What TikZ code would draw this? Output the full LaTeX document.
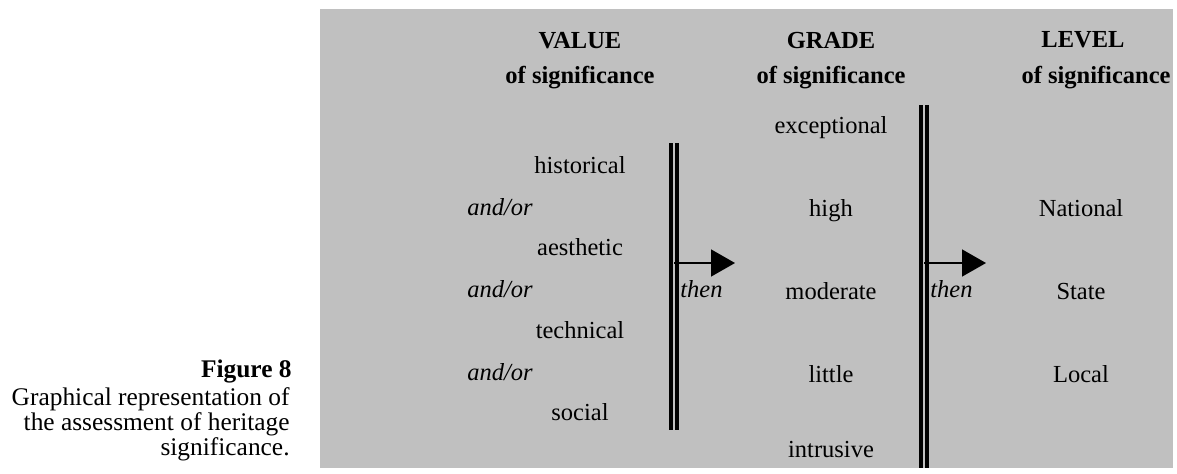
\documentclass[tikz,border=0pt]{standalone}
\usepackage{fontspec}
\setmainfont{Liberation Serif}
\usetikzlibrary{arrows.meta}
\definecolor{panelgrey}{RGB}{192,192,192}

\begin{document}
\begin{tikzpicture}[x=0.5pt,y=-0.5pt]
  \tikzset{TXT/.style={inner sep=0pt, anchor=base, font=\fontsize{12.25}{14}\selectfont} }
  \tikzset{HEAD/.style={TXT, font=\fontsize{12.25}{14}\selectfont\bfseries} }
  \tikzset{CAP/.style={inner sep=0pt, anchor=base east, font=\fontsize{12.7}{14}\selectfont} }
  \tikzset{BAR/.style={line width=1.75pt} }
  \tikzset{THEN/.style={-{Triangle[length=12pt,width=13.5pt]}, line width=0.75pt} }

  \useasboundingbox (0,0) rectangle (1177,473);
  \fill[panelgrey] (320,9) rectangle (1173,468);

  % headings
  \node[HEAD] (value)  at (580,48)  {VALUE};
  \node[HEAD] (valsig) at (580,83)  {of significance};
  \node[HEAD] (grade)  at (831,48)  {GRADE};
  \node[HEAD] (grdsig) at (831,83)  {of significance};
  \node[HEAD] (level)  at (1083,47) {LEVEL};
  \node[HEAD] (levsig) at (1096,83) {of significance};

  % values
  \node[TXT] (hist)  at (580,173) {historical};
  \node[TXT] (aest)  at (580,255) {aesthetic};
  \node[TXT] (tech)  at (580,338) {technical};
  \node[TXT] (soc)   at (580,420) {social};
  \node[TXT, anchor=base west] (andor1) at (467,215) {\textit{and/or}};
  \node[TXT, anchor=base west] (andor2) at (467,297) {\textit{and/or}};
  \node[TXT, anchor=base west] (andor3) at (467,380) {\textit{and/or}};

  % grades
  \node[TXT] (exc)  at (831,133) {exceptional};
  \node[TXT] (high) at (831,216) {high};
  \node[TXT] (mod)  at (831,299) {moderate};
  \node[TXT] (lit)  at (831,382) {little};
  \node[TXT] (intr) at (831,457) {intrusive};

  % levels
  \node[TXT] (nat)   at (1081,216) {National};
  \node[TXT] (state) at (1081,299) {State};
  \node[TXT] (local) at (1081,382) {Local};

  % double bars
  \coordinate (bar1top) at (674,143);
  \coordinate (bar1bot) at (674,430);
  \coordinate (bar2top) at (924,105);
  \coordinate (bar2bot) at (924,468);
  \draw[BAR] ([xshift=-1.5pt]bar1top) -- ([xshift=-1.5pt]bar1bot);
  \draw[BAR] ([xshift=1.5pt]bar1top)  -- ([xshift=1.5pt]bar1bot);
  \draw[BAR] ([xshift=-1.4pt]bar2top) -- ([xshift=-1.4pt]bar2bot);
  \draw[BAR] ([xshift=1.4pt]bar2top)  -- ([xshift=1.4pt]bar2bot);

  % arrows
  \coordinate (arr1s) at (674,263);
  \coordinate (arr1e) at (735,263);
  \coordinate (arr2s) at (924,263);
  \coordinate (arr2e) at (986,263);
  \draw[THEN] (arr1s) -- (arr1e);
  \draw[THEN] (arr2s) -- (arr2e);
  \node[TXT, anchor=base west] (then1) at (680,297) {\textit{then}};
  \node[TXT, anchor=base west] (then2) at (930,297) {\textit{then}};

  % caption
  \node[CAP, font=\fontsize{12.7}{14}\selectfont\bfseries] (fig) at (292,377) {Figure 8};
  \node[CAP] (cap1) at (290,405) {Graphical representation of};
  \node[CAP] (cap2) at (290,430) {the assessment of heritage};
  \node[CAP] (cap3) at (290,455) {significance.};
\end{tikzpicture}
\end{document}
